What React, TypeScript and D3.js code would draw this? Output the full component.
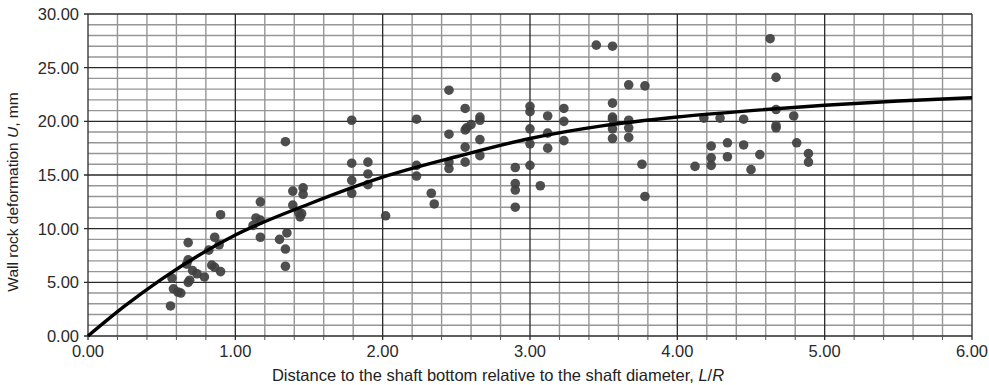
import React, { useEffect, useRef } from "react";
import * as d3 from "d3";

const xTicks = [0, 1, 2, 3, 4, 5, 6];
const yTicks = [0, 5, 10, 15, 20, 25, 30];

// measured points [L/R, U]
const pointsX = [
  0.57, 0.58, 0.63, 0.61, 0.56, 0.68, 0.68, 0.67, 0.68, 0.69, 0.71, 0.74, 0.79, 0.82, 0.86, 0.84, 0.86, 0.9, 0.89, 0.9,
  1.34, 1.39, 1.46, 1.46, 1.17, 1.39, 1.43, 1.45, 1.44, 1.14, 1.17, 1.12, 1.17, 1.35, 1.3, 1.34, 1.34,
  1.79, 2.23, 2.45, 2.56, 2.57, 2.56, 2.45, 2.56, 2.56, 2.45, 2.45, 1.79, 1.9, 1.9, 1.79, 1.9, 1.79, 2.02, 2.23, 2.23, 2.33, 2.35,
  3.45, 3.56, 3.67, 3.78, 3.56, 3.56, 3.56, 3.67, 3.56, 3.67, 3.56, 3.67, 3.76, 3.78,
  2.6, 2.66, 2.66, 2.66, 2.66, 2.9, 2.9, 2.9, 2.9, 3.0, 3.0, 3.0, 3.0, 3.0, 3.07, 3.12, 3.12, 3.12, 3.23, 3.23, 3.23,
  4.63, 4.67, 4.67, 4.67, 4.67, 4.79, 4.18, 4.29, 4.45, 4.81, 4.23, 4.34, 4.45, 4.56, 4.89, 4.89, 4.23, 4.34, 4.23, 4.12, 4.5,
];
const pointsU = [
  5.4, 4.4, 4.0, 4.1, 2.8, 8.7, 7.1, 6.7, 5.0, 5.2, 6.1, 5.8, 5.5, 8.0, 9.2, 6.6, 6.4, 6.0, 8.5, 11.3,
  18.1, 13.5, 13.8, 13.2, 12.5, 12.2, 11.5, 11.4, 11.1, 11.0, 10.8, 10.3, 9.2, 9.6, 9.0, 8.1, 6.5,
  20.1, 20.2, 22.9, 21.2, 19.4, 19.2, 18.8, 17.6, 16.2, 16.2, 15.6, 16.1, 16.2, 15.1, 14.5, 14.1, 13.3, 11.2, 15.9, 14.9, 13.3, 12.3,
  27.1, 27.0, 23.4, 23.3, 21.7, 20.4, 20.2, 20.1, 19.3, 19.4, 18.4, 18.5, 16.0, 13.0,
  19.7, 20.4, 20.1, 18.3, 16.8, 15.7, 14.2, 13.6, 12.0, 21.4, 20.9, 19.3, 17.9, 15.9, 14.0, 20.5, 18.9, 17.5, 21.2, 20.0, 18.2,
  27.7, 24.1, 21.1, 19.6, 19.4, 20.5, 20.3, 20.3, 20.2, 18.0, 17.7, 18.0, 17.8, 16.9, 17.0, 16.2, 16.6, 16.7, 15.9, 15.8, 15.5,
];

// fitted trend curve
const curveX = [0, 0.25, 0.5, 0.75, 1, 1.5, 2, 2.5, 3, 3.5, 4, 4.5, 5, 5.5, 6];
const curveU = [0, 2.8, 5.3, 7.5, 9.4, 12.3, 14.8, 16.7, 18.4, 19.6, 20.4, 21.0, 21.5, 21.9, 22.2];

const W = 989;
const H = 385;
const M = { left: 88, right: 972, top: 14, bottom: 336 };

export default function App() {
  const ref = useRef<SVGSVGElement>(null);

  useEffect(() => {
    const svg = d3.select(ref.current);
    svg.selectAll("*").remove();
    const x = d3.scaleLinear().domain([0, 6]).range([M.left, M.right]);
    const y = d3.scaleLinear().domain([0, 30]).range([M.bottom, M.top]);
    const font = "'Liberation Sans', Arial, sans-serif";

    const g = svg.append("g");
    // minor grid
    const xMinor = d3.range(0, 30 + 1).map((i) => i * 0.2).filter((v, i) => i % 5 !== 0);
    const yMinor = d3.range(0, 31).filter((v) => v % 5 !== 0);
    g.selectAll(".xm").data(xMinor).enter().append("line")
      .attr("x1", (d) => x(d)).attr("x2", (d) => x(d))
      .attr("y1", M.top).attr("y2", M.bottom)
      .attr("stroke", "#969696").attr("stroke-width", 1.4);
    g.selectAll(".ym").data(yMinor).enter().append("line")
      .attr("x1", M.left).attr("x2", M.right)
      .attr("y1", (d) => y(d)).attr("y2", (d) => y(d))
      .attr("stroke", "#969696").attr("stroke-width", 1.4);
    // major grid
    g.selectAll(".xM").data(xTicks).enter().append("line")
      .attr("x1", (d) => x(d)).attr("x2", (d) => x(d))
      .attr("y1", M.top).attr("y2", M.bottom + 4)
      .attr("stroke", "#2a2a2a").attr("stroke-width", 1.3);
    g.selectAll(".yM").data(yTicks).enter().append("line")
      .attr("x1", M.left - 4).attr("x2", M.right)
      .attr("y1", (d) => y(d)).attr("y2", (d) => y(d))
      .attr("stroke", "#2a2a2a").attr("stroke-width", 1.3);
    // minor ticks on x axis
    g.selectAll(".xt").data(xMinor).enter().append("line")
      .attr("x1", (d) => x(d)).attr("x2", (d) => x(d))
      .attr("y1", M.bottom).attr("y2", M.bottom + 4)
      .attr("stroke", "#555").attr("stroke-width", 1);

    // tick labels
    g.selectAll(".xl").data(xTicks).enter().append("text")
      .attr("x", (d) => x(d)).attr("y", M.bottom + 21)
      .attr("text-anchor", "middle").attr("font-family", font).attr("font-size", 16.5)
      .attr("fill", "#2a2a2a").text((d) => d.toFixed(2));
    g.selectAll(".yl").data(yTicks).enter().append("text")
      .attr("x", M.left - 9).attr("y", (d) => y(d) + 6)
      .attr("text-anchor", "end").attr("font-family", font).attr("font-size", 16.5)
      .attr("fill", "#2a2a2a").text((d) => d.toFixed(2));

    // points
    const pts = pointsX.map((px, i) => [px, pointsU[i]]);
    g.selectAll(".pt").data(pts).enter().append("circle")
      .attr("cx", (d) => x(d[0])).attr("cy", (d) => y(d[1])).attr("r", 4.8)
      .attr("fill", "#404040").attr("fill-opacity", 0.92);

    // curve
    const line = d3.line<number>().x((d) => x(d)).y((d, i) => y(curveU[i])).curve(d3.curveMonotoneX);
    g.append("path").attr("d", line(curveX)).attr("fill", "none")
      .attr("stroke", "#000").attr("stroke-width", 3.4);

    // axis titles
    const xt = g.append("text").attr("x", 498).attr("y", 381).attr("text-anchor", "middle")
      .attr("font-family", font).attr("font-size", 16.5).attr("fill", "#222");
    xt.append("tspan").text("Distance to the shaft bottom relative to the shaft diameter, ");
    xt.append("tspan").attr("font-style", "italic").text("L");
    xt.append("tspan").text("/");
    xt.append("tspan").attr("font-style", "italic").text("R");

    const yt = g.append("text").attr("transform", `translate(18,192) rotate(-90)`)
      .attr("text-anchor", "middle").attr("font-family", font).attr("font-size", 15.5).attr("fill", "#222");
    yt.append("tspan").text("Wall rock deformation ");
    yt.append("tspan").attr("font-style", "italic").text("U");
    yt.append("tspan").text(", mm");
  }, []);

  return (
    <svg ref={ref} width={W} height={H}
      style={{ position: "absolute", left: 0, top: 0, background: "#fff" }} />
  );
}
